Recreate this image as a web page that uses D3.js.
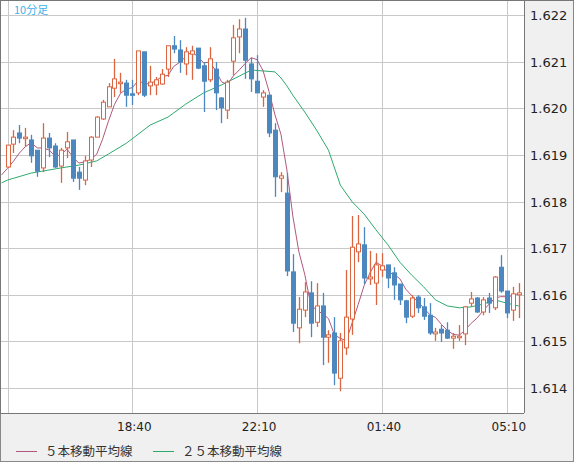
<!DOCTYPE html>
<html><head><meta charset="utf-8">
<script src="https://cdn.jsdelivr.net/npm/d3@7"></script>
<style>body{margin:0;background:#f0f0f0;}svg{display:block;font-family:"Noto Sans CJK JP","DejaVu Sans",sans-serif;}</style>
</head><body>
<svg id="chart" width="574" height="462"></svg>
<script>
// 10分足 OHLC (x 1e-5)
const opens  = [161874,161923,161947,161936,161932,161910,161872,161936,161919,161876,161915,161932,161863,161846,161889,161938,161977,162003,162043,162054,162054,162031,162033,162121,162048,162050,162052,162084,162134,162125,162095,162116,162129,162091,162061,162084,162022,161996,162101,162153,162170,162095,162058,162024,162028,161953,161850,161818,161649,161529,161567,161604,161541,161576,161509,161518,161421,161486,161548,161692,161707,161634,161625,161653,161664,161647,161623,161587,161554,161595,161574,161556,161516,161526,161524,161507,161509,161516,161582,161593,161563,161593,161572,161659,161608,161567,161600];
const highs  = [161921,161953,161964,161958,161943,161910,161968,161947,161925,161915,161949,161932,161874,161898,161940,161983,162018,162054,162106,162076,162061,162061,162123,162121,162091,162067,162084,162134,162155,162146,162131,162134,162129,162099,162131,162099,162024,162061,162179,162191,162194,162108,162114,162039,162028,161968,161863,161861,161687,161595,161627,161629,161625,161604,161524,161552,161518,161653,161769,161771,161745,161694,161689,161689,161664,161659,161623,161589,161599,161599,161593,161582,161529,161535,161541,161518,161535,161576,161606,161595,161595,161604,161640,161685,161608,161617,161625];
const lows   = [161872,161904,161925,161917,161883,161853,161863,161895,161872,161840,161893,161842,161825,161835,161874,161938,161975,162003,162024,162033,162003,162007,162028,162024,162028,162028,162050,162067,162118,162076,162071,162061,162084,161992,162056,161996,161968,161977,162071,162118,162063,162035,162033,162003,161938,161810,161820,161640,161520,161496,161552,161509,161531,161449,161454,161406,161393,161471,161514,161670,161623,161621,161578,161638,161614,161589,161578,161539,161550,161561,161546,161514,161501,161499,161505,161484,161501,161492,161574,161561,161556,161561,161567,161604,161550,161544,161550];
const closes = [161921,161938,161936,161938,161898,161865,161936,161915,161874,161910,161928,161850,161850,161887,161938,161981,162013,162046,162063,162056,162028,162028,162123,162028,162056,162061,162073,162134,162127,162099,162121,162123,162086,162058,162106,162033,162001,162056,162151,162170,162103,162063,162033,162033,161947,161853,161855,161651,161539,161569,161606,161539,161576,161509,161514,161432,161501,161552,161702,161709,161636,161638,161664,161662,161636,161621,161589,161552,161593,161572,161554,161518,161520,161518,161507,161511,161511,161574,161591,161563,161589,161582,161638,161608,161561,161602,161604];
// closes before the first visible bar (for the 5-bar average)
const priorCloses = [161850,161862,161848,161870,161855];
// 25本移動平均線: bar index and value
const ma25Idx = [-1,0,4,9,12,15,17,20,24,27,30,33,36,39,41,43,45,46,47,48,50,52,54,56,58,60,62,64,66,68,70,72,74,76,78,80,82,84,86];
const ma25Val = [161840,161846,161861,161872,161878,161887,161902,161925,161964,161981,162009,162033,162050,162069,162082,162080,162078,162065,162048,162028,161992,161953,161910,161835,161799,161773,161739,161707,161670,161642,161617,161589,161576,161572,161574,161580,161589,161582,161576];
const yTicks = [1.614,1.615,1.616,1.617,1.618,1.619,1.620,1.621,1.622];
const xTickIdx = [0,21,42,63,84];
const xTickLabels = ["","18:40","22:10","01:40","05:10"];

const bars = opens.map((o,i)=>({i, o:o/1e5, h:highs[i]/1e5, l:lows[i]/1e5, c:closes[i]/1e5}));
const allC = priorCloses.concat(closes);
// index -1 .. 86
const ma5 = allC.slice(4).map((c,k)=>({i:k-1, v:d3.mean(allC.slice(k,k+5))/1e5}));
const ma25 = ma25Idx.map((i,k)=>({i, v:ma25Val[k]/1e5}));

const svg = d3.select("#chart");
const L=1, R=524, T=1, B=413;
const x = d3.scaleLinear().domain([0,86]).range([7.5,518.7]);
const y = d3.scaleLinear().domain([1.614,1.622]).range([388,15]);

svg.append("rect").attr("x",0.5).attr("y",0.5).attr("width",573).attr("height",461).attr("fill","#f0f0f0").attr("stroke","#888");
svg.append("rect").attr("x",L).attr("y",T).attr("width",R-L).attr("height",B-T).attr("fill","#fff");

svg.append("clipPath").attr("id","plot").append("rect").attr("x",L).attr("y",T).attr("width",R-L).attr("height",B-T);

// grid
svg.append("g").selectAll("line").data(yTicks).enter().append("line")
  .attr("x1",L).attr("x2",R).attr("y1",d=>Math.round(y(d))+0.5).attr("y2",d=>Math.round(y(d))+0.5)
  .attr("stroke","#c8c8c8");
svg.append("g").selectAll("line").data(xTickIdx).enter().append("line")
  .attr("x1",d=>Math.round(x(d))+0.5).attr("x2",d=>Math.round(x(d))+0.5).attr("y1",T).attr("y2",B)
  .attr("stroke","#c8c8c8");

// MA lines
const line = d3.line().x(d=>x(d.i)).y(d=>y(d.v));
const mg = svg.append("g").attr("clip-path","url(#plot)");
mg.append("path").datum(ma25).attr("d",line).attr("fill","none").attr("stroke","#2eaa6e").attr("stroke-width",1);
mg.append("path").datum(ma5).attr("d",line).attr("fill","none").attr("stroke","#b0587e").attr("stroke-width",1);

// candles
const up="#dc6541", dn="#4c88bf";
const g = svg.append("g");
g.selectAll("line").data(bars).enter().append("line")
  .attr("x1",d=>Math.round(x(d.i))+0.5).attr("x2",d=>Math.round(x(d.i))+0.5)
  .attr("y1",d=>y(d.h)).attr("y2",d=>y(d.l))
  .attr("stroke",d=>d.c>=d.o?up:dn).attr("stroke-width",1.3);
g.selectAll("rect").data(bars).enter().append("rect")
  .attr("x",d=>Math.round(x(d.i))-1.5).attr("width",4)
  .attr("y",d=>y(Math.max(d.o,d.c))).attr("height",d=>Math.max(1.5,Math.abs(y(d.o)-y(d.c))))
  .attr("fill",d=>d.c>=d.o?"#fff":dn).attr("stroke",d=>d.c>=d.o?up:dn).attr("stroke-width",1);

// frame
svg.append("line").attr("x1",0).attr("x2",574).attr("y1",0.5).attr("y2",0.5).attr("stroke","#777");
svg.append("line").attr("x1",R+0.5).attr("x2",R+0.5).attr("y1",0).attr("y2",B).attr("stroke","#777");
svg.append("line").attr("x1",0).attr("x2",R).attr("y1",B+0.5).attr("y2",B+0.5).attr("stroke","#777");
svg.append("line").attr("x1",0.5).attr("x2",0.5).attr("y1",0).attr("y2",B).attr("stroke","#777");

// axes labels
svg.append("g").selectAll("text").data(yTicks).enter().append("text")
  .attr("x",530).attr("y",d=>y(d)+5).attr("font-size",13).attr("fill","#222")
  .attr("font-family","DejaVu Sans").text(d=>d.toFixed(3));
svg.append("g").selectAll("text").data(xTickIdx).enter().append("text")
  .attr("x",d=>x(d)+2).attr("y",431).attr("text-anchor","middle").attr("font-size",12).attr("fill","#222")
  .attr("font-family","DejaVu Sans").text((d,k)=>xTickLabels[k]);

svg.append("text").attr("x",14).attr("y",14).attr("font-size",11).attr("fill","#3db2ea").text("10分足");

// legend
const leg = [{t:"５本移動平均線",c:"#b0587e",x:16},{t:"２５本移動平均線",c:"#2eaa6e",x:153}];
leg.forEach(d=>{
  svg.append("line").attr("x1",d.x).attr("x2",d.x+21).attr("y1",451.5).attr("y2",451.5).attr("stroke",d.c);
  svg.append("text").attr("x",d.x+29).attr("y",456).attr("font-size",12.5).attr("fill","#333").text(d.t);
});
</script>
</body></html>
